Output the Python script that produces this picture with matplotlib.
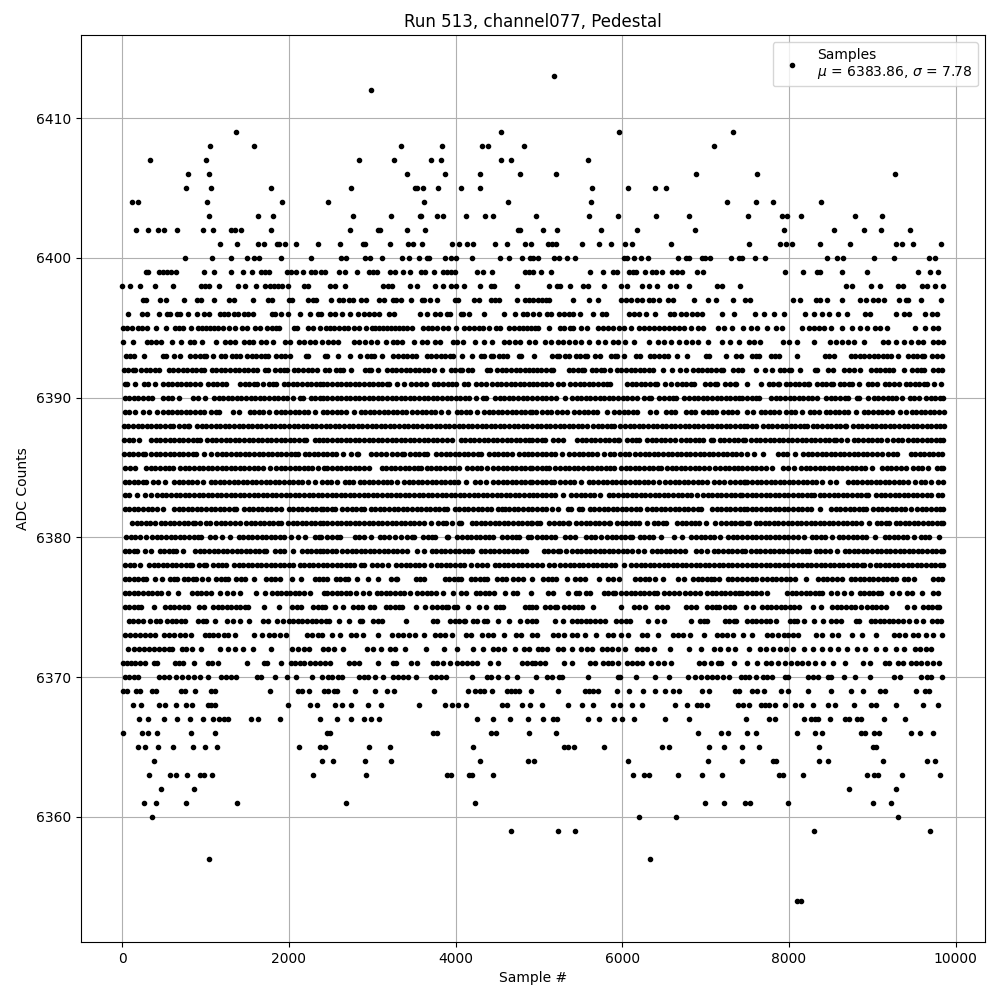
"""Pedestal scatter for run 513, channel077: ADC counts per sample."""

import matplotlib

matplotlib.use("Agg")
import matplotlib.pyplot as plt

# Sample numbers, one list per ADC level.
s6413 = [5184]
s6412 = [2984]
s6409 = [1364, 4544, 5964, 7332]
s6408 = [1052, 1580, 3344, 3836, 4316, 4388, 4820, 7104]
s6407 = [332, 1004, 2840, 3260, 3704, 3824, 4544, 4664, 5592]
s6406 = [788, 1040, 3416, 3872, 4292, 4772, 5208, 6888, 7620, 9276]
s6405 = [764, 1064, 1784, 2744, 3512, 3536, 3608, 3788, 4064, 4292, 5640, 6072, 6396, 6528]
s6404 = [124, 188, 1016, 1916, 2468, 3620, 4628, 5628, 7260, 7608, 7812, 8388]
s6403 = [1040, 1628, 1808, 2768, 3224, 3572, 3584, 3776, 3848, 4124, 4352, 4448, 4968, 5604,
         5952, 6408, 6804, 7512, 7920, 7980, 8148, 8796, 9120]
s6402 = [164, 308, 428, 500, 656, 968, 1088, 1304, 1352, 1424, 1784, 2732, 3068, 3092, 3416,
         3632, 4748, 4772, 5052, 5220, 5748, 6180, 6876, 7944, 8544, 8904, 9108, 9456]
s6401 = [1172, 1376, 1628, 1700, 1856, 1880, 1952, 2084, 2348, 2612, 2888, 2912, 3212, 3428,
         3488, 3596, 3956, 4040, 4136, 4208, 4472, 4616, 4832, 4904, 5112, 5160, 5208, 5520,
         5724, 5868, 6036, 6120, 6588, 7524, 7896, 7968, 8040, 8376, 8736, 9288, 9360, 9492, 9828]
s6400 = [752, 1076, 1304, 1496, 1580, 1640, 1904, 2264, 2624, 2684, 2912, 2972, 3116, 3356,
         3440, 3560, 3656, 3680, 3872, 3944, 4008, 4196, 4532, 4640, 4796, 4892, 4924, 4988,
         5184, 5244, 5340, 5436, 6024, 6060, 6144, 6228, 6312, 6672, 6768, 6804, 6960, 6996,
         7056, 7308, 7404, 7440, 7596, 7716, 8460, 8580, 8652, 9024, 9264, 9684, 9756]
s6399 = [284, 308, 440, 488, 536, 584, 648, 980, 1100, 1304, 1448, 1556, 1664, 1712, 1760,
         1976, 2024, 2084, 2168, 2264, 2312, 2384, 2432, 2600, 2672, 2816, 2960, 3008, 3060,
         3212, 3272, 3368, 3452, 3584, 3632, 3740, 3848, 3896, 3944, 3992, 4256, 4328, 4436,
         4832, 4880, 4932, 5028, 5148, 5616, 5772, 5892, 5940, 6084, 6132, 6168, 6276, 6360,
         6408, 6480, 6600, 6660, 6720, 6900, 6972, 7956, 8172, 8340, 8376, 8640, 8940, 9552,
         9696, 9792]
s6398 = [0, 92, 212, 392, 608, 944, 992, 1044, 1160, 1388, 1472, 1612, 1712, 1772, 1820, 1868,
         1916, 1988, 2180, 2228, 2492, 2552, 2672, 3128, 3188, 3236, 3452, 3536, 3752, 3848,
         3944, 4008, 4100, 4292, 4424, 4460, 4736, 5124, 5220, 5256, 5376, 5532, 5592, 5784,
         5988, 6060, 6240, 6324, 6420, 6576, 6648, 6804, 7140, 7200, 7416, 8688, 8760, 8988,
         9096, 9312, 9372, 9600, 9660, 9756, 9850]
s6397 = [248, 284, 452, 524, 740, 896, 944, 1100, 1280, 1340, 1568, 1748, 1796, 2000, 2036,
         2228, 2288, 2324, 2504, 2600, 2648, 2720, 2768, 2864, 2924, 3080, 3140, 3248, 3284,
         3344, 3464, 3596, 3620, 3692, 3776, 3992, 4028, 4220, 4280, 4424, 4472, 4520, 4736,
         4832, 4880, 4932, 4992, 5040, 5088, 5124, 5412, 5604, 5712, 5988, 6048, 6108, 6180,
         6240, 6324, 6372, 6444, 6552, 6612, 6864, 7032, 7128, 7332, 7476, 7536, 8052, 8136,
         8328, 8376, 8460, 8640, 8856, 8928, 9012, 9072, 9144, 9324, 9408, 9432, 9588, 9828]
s6396 = [68, 236, 296, 440, 536, 572, 656, 692, 788, 896, 980, 1040, 1172, 1220, 1268, 1340,
         1388, 1460, 1508, 1568, 1796, 1832, 1904, 1988, 2132, 2252, 2348, 2388, 2492, 2552,
         2636, 2732, 2828, 2900, 2960, 3020, 3080, 3200, 3260, 3572, 3656, 3752, 3812, 3896,
         3932, 4064, 4088, 4160, 4340, 4580, 4712, 4808, 4856, 4932, 5004, 5100, 5148, 5244,
         5304, 5364, 5412, 5496, 5652, 5760, 5808, 6084, 6144, 6204, 6288, 6396, 6576, 6624,
         6708, 6768, 6840, 6900, 6960, 7192, 7344, 7596, 7704, 7824, 7944, 8196, 8304, 8400,
         8484, 8592, 8700, 8916, 8976, 9288, 9384, 9444, 9636, 9720, 9780]
s6395 = [8, 56, 120, 188, 236, 296, 404, 524, 632, 680, 728, 824, 908, 956, 1004, 1052, 1100,
         1148, 1208, 1280, 1352, 1436, 1496, 1592, 1652, 1736, 1796, 1844, 1880, 2060, 2096,
         2228, 2288, 2372, 2444, 2492, 2540, 2600, 2660, 2708, 2780, 2840, 2924, 2996, 3032,
         3080, 3128, 3176, 3224, 3272, 3320, 3368, 3416, 3476, 3608, 3668, 3716, 3776, 3848,
         3908, 4004, 4100, 4160, 4220, 4280, 4328, 4400, 4484, 4532, 4640, 4700, 4760, 4808,
         4856, 4904, 4952, 4992, 5124, 5256, 5304, 5376, 5412, 5508, 5580, 5712, 5772, 5832,
         5892, 5964, 6024, 6108, 6204, 6264, 6324, 6384, 6444, 6504, 6564, 6624, 6684, 6744,
         6828, 6912, 6972, 7152, 7224, 7320, 7452, 7548, 7620, 7740, 7848, 7920, 8160, 8244,
         8304, 8364, 8424, 8508, 8640, 8760, 8856, 8940, 9036, 9096, 9180, 9516, 9636, 9732, 9792]
s6394 = [8, 128, 296, 344, 404, 464, 596, 704, 812, 860, 956, 1124, 1232, 1292, 1352, 1460,
         1520, 1568, 1664, 1724, 1808, 1952, 2012, 2120, 2180, 2252, 2312, 2396, 2468, 2528,
         2588, 2780, 2840, 2912, 2984, 3056, 3164, 3248, 3296, 3356, 3500, 3596, 3656, 3752,
         3812, 3968, 4016, 4088, 4232, 4340, 4436, 4580, 4640, 4712, 4772, 4880, 4952, 5076,
         5148, 5232, 5292, 5364, 5436, 5508, 5604, 5712, 5796, 5892, 5952, 6036, 6144, 6324,
         6432, 6504, 6588, 6684, 6768, 6840, 6912, 7032, 7200, 7296, 7404, 7524, 7584, 7656,
         7932, 8004, 8100, 8304, 8496, 8568, 8640, 8712, 8784, 8904, 9132, 9192, 9288, 9384,
         9468, 9552, 9612, 9732, 9792, 9850]
s6393 = [50, 100, 140, 260, 490, 530, 620, 700, 820, 875, 930, 985, 1010, 1088, 1190, 1230, 1320,
         1370, 1420, 1500, 1555, 1610, 1665, 1720, 1750, 1850, 1905, 1960, 2010, 2210, 2230, 2430,
         2460, 2584, 2728, 2852, 2935, 2985, 3025, 3112, 3255, 3310, 3365, 3420, 3475, 3520, 3655,
         3710, 3765, 3820, 3875, 3930, 3970, 4080, 4200, 4310, 4345, 4425, 4445, 4525, 4575, 4620,
         4760, 4785, 4945, 5160, 5215, 5235, 5310, 5360, 5440, 5495, 5550, 5580, 5670, 5730, 5860,
         5910, 5940, 6022, 6170, 6210, 6330, 6385, 6440, 6495, 6550, 6656, 6776, 7000, 7040, 7248,
         7370, 7420, 7560, 7600, 7640, 7785, 7830, 7880, 8096, 8430, 8480, 8535, 8740, 8795, 8850,
         8905, 8960, 9015, 9070, 9125, 9180, 9220, 9308, 9430, 9485, 9540, 9590, 9620, 9720, 9775,
         9830]
s6392 = [20, 75, 130, 155, 230, 285, 340, 395, 445, 560, 615, 670, 725, 780, 835, 890, 945, 980,
         1076, 1130, 1185, 1240, 1295, 1350, 1405, 1460, 1515, 1570, 1620, 1716, 1755, 1835, 1890,
         1945, 1975, 2060, 2115, 2170, 2225, 2280, 2340, 2430, 2485, 2560, 2610, 2655, 2750, 2910,
         2960, 2990, 3072, 3180, 3235, 3290, 3345, 3400, 3455, 3510, 3565, 3620, 3675, 3745, 3835,
         3940, 3995, 4050, 4080, 4150, 4195, 4380, 4410, 4500, 4555, 4610, 4665, 4720, 4775, 4830,
         4885, 4925, 4975, 5030, 5085, 5140, 5165, 5355, 5410, 5465, 5520, 5545, 5635, 5690, 5745,
         5785, 5858, 5935, 5990, 6045, 6100, 6155, 6210, 6265, 6320, 6365, 6490, 6600, 6690, 6760,
         6850, 6905, 6960, 7015, 7070, 7125, 7180, 7210, 7330, 7385, 7440, 7600, 7716, 7790, 7886,
         7940, 7995, 8025, 8132, 8315, 8340, 8465, 8530, 8665, 8720, 8775, 8855, 8985, 9040, 9095,
         9150, 9205, 9250, 9382, 9476, 9530, 9585, 9615, 9730, 9785, 9840]
s6391 = [30, 60, 160, 260, 305, 394, 490, 545, 600, 655, 710, 765, 820, 875, 930, 1030, 1085, 1140,
         1195, 1250, 1418, 1473, 1528, 1583, 1620, 1694, 1758, 1813, 1845, 1938, 1993, 2048, 2103,
         2158, 2213, 2268, 2323, 2378, 2415, 2462, 2517, 2572, 2627, 2682, 2737, 2792, 2847, 2902,
         2957, 3012, 3067, 3122, 3177, 3205, 3300, 3385, 3470, 3525, 3580, 3640, 3740, 3795, 3850,
         3905, 3960, 4005, 4100, 4155, 4250, 4305, 4360, 4440, 4495, 4550, 4605, 4660, 4715, 4770,
         4825, 4880, 4925, 4978, 5033, 5088, 5145, 5225, 5285, 5378, 5433, 5488, 5543, 5598, 5653,
         5708, 5763, 5818, 5850, 6058, 6113, 6168, 6223, 6278, 6333, 6388, 6420, 6518, 6580, 6658,
         6713, 6768, 6823, 6860, 6998, 7053, 7108, 7140, 7238, 7293, 7348, 7370, 7498, 7658, 7758,
         7813, 7868, 7880, 7958, 8013, 8068, 8123, 8178, 8233, 8240, 8338, 8393, 8448, 8503, 8530,
         8606, 8661, 8716, 8750, 8840, 8946, 9001, 9060, 9146, 9201, 9256, 9320, 9398, 9453, 9508,
         9563, 9618, 9660, 9738, 9820]
s6390 = [30, 85, 140, 195, 250, 305, 360, 490, 545, 600, 680, 850, 905, 990, 1102, 1157, 1212,
         1267, 1322, 1377, 1432, 1487, 1542, 1597, 1652, 1707, 1762, 1817, 1872, 1927, 1982, 2050,
         2130, 2170, 2262, 2317, 2372, 2410, 2462, 2517, 2572, 2627, 2682, 2737, 2792, 2847, 2902,
         2957, 3012, 3067, 3122, 3177, 3232, 3287, 3342, 3397, 3452, 3507, 3562, 3617, 3672, 3727,
         3782, 3837, 3892, 3947, 4002, 4057, 4112, 4167, 4240, 4330, 4365, 4474, 4529, 4584, 4639,
         4694, 4749, 4804, 4859, 4914, 4978, 5033, 5088, 5143, 5206, 5310, 5398, 5453, 5508, 5563,
         5618, 5673, 5728, 5783, 5838, 5893, 5948, 6003, 6058, 6113, 6175, 6266, 6321, 6350, 6446,
         6501, 6556, 6611, 6646, 6746, 6801, 6856, 6911, 6966, 7021, 7076, 7131, 7186, 7241, 7296,
         7351, 7406, 7440, 7498, 7553, 7608, 7638, 7786, 7841, 7896, 7951, 8006, 8061, 8116, 8171,
         8226, 8281, 8338, 8446, 8501, 8556, 8611, 8666, 8710, 8810, 8838, 8942, 9018, 9073, 9128,
         9183, 9238, 9278, 9358, 9450, 9505, 9558, 9646, 9701, 9756, 9811, 9850]
s6389 = [30, 85, 150, 250, 322, 420, 490, 545, 600, 655, 710, 765, 820, 875, 930, 978, 1070, 1125,
         1162, 1330, 1402, 1530, 1585, 1640, 1695, 1762, 1850, 1905, 1960, 2015, 2070, 2125, 2180,
         2235, 2310, 2410, 2462, 2517, 2572, 2627, 2682, 2782, 2862, 2917, 2972, 3027, 3082, 3137,
         3192, 3247, 3302, 3357, 3402, 3482, 3537, 3592, 3647, 3702, 3757, 3822, 3912, 4014, 4069,
         4124, 4179, 4262, 4342, 4397, 4452, 4507, 4562, 4617, 4672, 4727, 4782, 4837, 4892, 4922,
         4966, 5038, 5093, 5146, 5218, 5273, 5338, 5426, 5481, 5536, 5591, 5646, 5698, 5812, 5906,
         5961, 6016, 6071, 6126, 6178, 6338, 6406, 6530, 6585, 6638, 6766, 6821, 6878, 6970, 7025,
         7080, 7126, 7210, 7265, 7320, 7378, 7498, 7570, 7658, 7713, 7768, 7823, 7878, 7966, 8021,
         8076, 8158, 8246, 8301, 8358, 8438, 8493, 8548, 8603, 8658, 8713, 8798, 8898, 8953, 9008,
         9063, 9118, 9173, 9238, 9330, 9398, 9470, 9525, 9580, 9635, 9690, 9745, 9800, 9858]
s6388 = [20, 75, 130, 185, 240, 295, 350, 405, 460, 515, 570, 610, 682, 737, 792, 802, 902, 957,
         1012, 1067, 1122, 1177, 1232, 1287, 1342, 1397, 1452, 1507, 1562, 1617, 1672, 1727, 1782,
         1837, 1892, 1947, 2002, 2057, 2112, 2167, 2222, 2277, 2332, 2387, 2442, 2497, 2552, 2607,
         2662, 2717, 2772, 2827, 2882, 2937, 2992, 3047, 3102, 3157, 3212, 3267, 3322, 3377, 3432,
         3487, 3542, 3597, 3652, 3707, 3762, 3817, 3872, 3927, 3982, 4037, 4092, 4147, 4202, 4257,
         4312, 4367, 4422, 4477, 4532, 4587, 4642, 4697, 4752, 4807, 4862, 4917, 4972, 5027, 5082,
         5137, 5192, 5247, 5302, 5357, 5412, 5467, 5522, 5578, 5650, 5705, 5760, 5815, 5870, 5898,
         5978, 6033, 6088, 6143, 6198, 6253, 6308, 6363, 6418, 6473, 6528, 6583, 6638, 6693, 6748,
         6803, 6858, 6913, 6968, 7023, 7078, 7133, 7188, 7243, 7298, 7353, 7408, 7463, 7498, 7553,
         7606, 7690, 7745, 7800, 7855, 7910, 7965, 8020, 8075, 8130, 8185, 8218, 8286, 8341, 8396,
         8451, 8506, 8561, 8616, 8671, 8686, 8770, 8825, 8880, 8935, 8990, 9045, 9100, 9155, 9210,
         9265, 9320, 9375, 9430, 9485, 9540, 9595, 9650, 9705, 9760, 9815, 9858]
s6387 = [25, 80, 135, 198, 350, 405, 460, 515, 570, 625, 680, 735, 790, 845, 900, 930, 1022, 1077,
         1132, 1187, 1242, 1297, 1352, 1407, 1462, 1517, 1572, 1627, 1682, 1737, 1792, 1847, 1902,
         1957, 2012, 2067, 2122, 2177, 2210, 2310, 2365, 2410, 2462, 2517, 2572, 2627, 2682, 2737,
         2792, 2847, 2902, 2957, 3012, 3067, 3122, 3177, 3232, 3287, 3342, 3397, 3452, 3507, 3562,
         3617, 3672, 3727, 3782, 3837, 3892, 3962, 4062, 4117, 4172, 4227, 4282, 4337, 4392, 4447,
         4502, 4557, 4612, 4667, 4722, 4777, 4832, 4887, 4922, 4978, 5033, 5078, 5170, 5225, 5286,
         5458, 5513, 5568, 5623, 5678, 5733, 5788, 5843, 5898, 5953, 5966, 6058, 6113, 6168, 6198,
         6298, 6353, 6408, 6463, 6518, 6573, 6630, 6706, 6761, 6816, 6871, 6926, 6966, 7066, 7086,
         7170, 7225, 7280, 7335, 7390, 7445, 7478, 7546, 7601, 7656, 7711, 7766, 7821, 7876, 7931,
         7986, 8041, 8096, 8151, 8206, 8261, 8316, 8371, 8426, 8481, 8536, 8558, 8626, 8690, 8778,
         8833, 8888, 8943, 8998, 9053, 9108, 9178, 9250, 9305, 9358, 9430, 9485, 9540, 9595, 9650,
         9705, 9760, 9815, 9850]
s6386 = [25, 80, 135, 190, 245, 278, 350, 405, 460, 515, 570, 625, 680, 735, 790, 845, 890, 982,
         1070, 1142, 1197, 1252, 1307, 1362, 1417, 1472, 1527, 1582, 1637, 1692, 1747, 1802, 1857,
         1912, 1967, 2022, 2077, 2110, 2190, 2245, 2300, 2355, 2410, 2462, 2517, 2570, 2654, 2742,
         2822, 2830, 2990, 3045, 3100, 3162, 3242, 3297, 3352, 3382, 3454, 3509, 3564, 3619, 3662,
         3770, 3825, 3880, 3935, 3990, 4045, 4100, 4155, 4210, 4265, 4302, 4402, 4457, 4512, 4567,
         4622, 4682, 4762, 4817, 4872, 4922, 4978, 5033, 5088, 5143, 5198, 5278, 5366, 5421, 5476,
         5531, 5586, 5641, 5696, 5778, 5858, 5906, 5978, 6033, 6078, 6158, 6213, 6268, 6323, 6378,
         6433, 6488, 6543, 6598, 6653, 6708, 6763, 6818, 6873, 6928, 6983, 7038, 7093, 7148, 7203,
         7258, 7313, 7368, 7423, 7498, 7578, 7688, 7870, 7925, 7980, 8070, 8170, 8225, 8280, 8335,
         8390, 8445, 8500, 8555, 8610, 8665, 8720, 8775, 8830, 8885, 8940, 8995, 9050, 9118, 9190,
         9245, 9298, 9458, 9513, 9568, 9623, 9678, 9733, 9788, 9838]
s6385 = [38, 93, 150, 290, 345, 400, 455, 510, 565, 610, 698, 753, 808, 863, 918, 973, 1028, 1083,
         1138, 1193, 1248, 1303, 1358, 1413, 1468, 1523, 1578, 1633, 1690, 1770, 1850, 1905, 1960,
         2015, 2070, 2125, 2180, 2235, 2278, 2354, 2424, 2462, 2517, 2572, 2627, 2682, 2737, 2792,
         2847, 2902, 2962, 3114, 3169, 3224, 3279, 3334, 3389, 3444, 3499, 3554, 3582, 3654, 3709,
         3764, 3819, 3874, 3929, 3984, 4042, 4142, 4197, 4252, 4307, 4382, 4454, 4509, 4564, 4619,
         4674, 4729, 4784, 4839, 4894, 4922, 4978, 5033, 5088, 5118, 5198, 5253, 5308, 5363, 5418,
         5473, 5528, 5583, 5638, 5693, 5748, 5803, 5858, 5898, 5986, 6041, 6096, 6151, 6206, 6261,
         6316, 6371, 6426, 6466, 6538, 6593, 6648, 6703, 6758, 6813, 6868, 6923, 6978, 7038, 7118,
         7173, 7228, 7283, 7338, 7393, 7438, 7498, 7553, 7608, 7663, 7718, 7798, 7930, 7985, 8058,
         8146, 8201, 8256, 8311, 8366, 8421, 8476, 8531, 8586, 8641, 8696, 8751, 8806, 8861, 8916,
         8998, 9118, 9173, 9228, 9283, 9338, 9398, 9490, 9545, 9590, 9672, 9770, 9825, 9850]
s6384 = [30, 85, 140, 195, 250, 282, 370, 425, 510, 622, 677, 732, 787, 842, 898, 970, 1062, 1117,
         1172, 1227, 1282, 1337, 1392, 1447, 1502, 1557, 1612, 1667, 1722, 1777, 1832, 1887, 1942,
         1997, 2052, 2107, 2162, 2230, 2310, 2398, 2453, 2502, 2582, 2670, 2725, 2770, 2850, 2905,
         2960, 3015, 3070, 3125, 3180, 3222, 3302, 3382, 3437, 3492, 3547, 3602, 3657, 3712, 3767,
         3822, 3877, 3932, 3987, 4034, 4128, 4234, 4289, 4362, 4454, 4509, 4564, 4619, 4674, 4729,
         4784, 4839, 4894, 4922, 4978, 5033, 5088, 5143, 5178, 5258, 5313, 5368, 5423, 5506, 5598,
         5653, 5708, 5763, 5818, 5873, 5928, 5983, 6038, 6093, 6148, 6203, 6258, 6313, 6368, 6438,
         6518, 6573, 6628, 6683, 6738, 6793, 6848, 6903, 6958, 7018, 7106, 7161, 7218, 7298, 7353,
         7408, 7463, 7498, 7478, 7558, 7613, 7668, 7723, 7778, 7833, 7888, 7943, 7998, 8053, 8108,
         8163, 8218, 8273, 8328, 8398, 8486, 8566, 8710, 8765, 8820, 8875, 8930, 8985, 9040, 9095,
         9150, 9205, 9260, 9315, 9370, 9425, 9506, 9578, 9633, 9706, 9786, 9850]
s6383 = [30, 85, 178, 270, 342, 422, 477, 532, 587, 642, 697, 752, 807, 862, 917, 972, 1027, 1082,
         1137, 1192, 1247, 1302, 1357, 1412, 1467, 1522, 1577, 1632, 1687, 1742, 1797, 1852, 1907,
         1962, 2017, 2072, 2127, 2182, 2237, 2292, 2347, 2402, 2457, 2512, 2567, 2622, 2677, 2732,
         2787, 2842, 2897, 2952, 3007, 3062, 3117, 3172, 3227, 3282, 3337, 3392, 3447, 3502, 3557,
         3612, 3667, 3722, 3777, 3832, 3887, 3942, 3997, 4052, 4107, 4162, 4217, 4272, 4327, 4382,
         4437, 4492, 4547, 4602, 4657, 4712, 4767, 4822, 4877, 4932, 4978, 5033, 5088, 5143, 5198,
         5286, 5390, 5445, 5500, 5555, 5610, 5665, 5738, 5838, 5893, 5948, 6003, 6058, 6113, 6168,
         6223, 6278, 6333, 6388, 6443, 6498, 6553, 6608, 6663, 6718, 6773, 6828, 6898, 6970, 7025,
         7080, 7135, 7190, 7245, 7300, 7355, 7410, 7440, 7498, 7553, 7608, 7663, 7718, 7773, 7828,
         7883, 7938, 7993, 8048, 8103, 8158, 8213, 8268, 8298, 8370, 8425, 8480, 8535, 8590, 8645,
         8700, 8755, 8810, 8865, 8920, 8950, 9046, 9101, 9156, 9211, 9266, 9321, 9376, 9431, 9486,
         9541, 9596, 9651, 9706, 9790, 9838]
s6382 = [30, 85, 140, 195, 250, 305, 360, 415, 490, 622, 677, 732, 787, 842, 897, 952, 1007, 1062,
         1117, 1172, 1227, 1282, 1337, 1370, 1462, 1517, 1572, 1627, 1682, 1737, 1792, 1847, 1910,
         1998, 2053, 2108, 2163, 2218, 2273, 2328, 2383, 2410, 2462, 2517, 2554, 2642, 2697, 2752,
         2807, 2862, 2902, 2982, 3037, 3092, 3147, 3202, 3257, 3312, 3367, 3422, 3477, 3532, 3587,
         3642, 3697, 3752, 3807, 3862, 3894, 3990, 4045, 4100, 4155, 4210, 4265, 4320, 4375, 4422,
         4506, 4560, 4590, 4645, 4700, 4755, 4810, 4865, 4920, 4978, 5033, 5088, 5158, 5232, 5350,
         5390, 5478, 5518, 5610, 5665, 5720, 5775, 5830, 5885, 5940, 5995, 6050, 6105, 6160, 6218,
         6298, 6353, 6408, 6463, 6518, 6573, 6628, 6683, 6738, 6793, 6848, 6903, 6950, 7078, 7133,
         7188, 7243, 7298, 7353, 7408, 7463, 7498, 7553, 7608, 7663, 7718, 7773, 7828, 7883, 7938,
         7993, 8048, 8103, 8158, 8213, 8266, 8372, 8506, 8561, 8616, 8671, 8726, 8781, 8836, 8891,
         8926, 9010, 9065, 9120, 9175, 9230, 9285, 9340, 9395, 9458, 9538, 9593, 9648, 9703, 9758,
         9813, 9850]
s6381 = [118, 173, 228, 283, 338, 390, 462, 517, 572, 627, 682, 737, 792, 847, 870, 936, 1002,
         1050, 1130, 1185, 1240, 1295, 1350, 1420, 1486, 1541, 1596, 1651, 1706, 1761, 1816, 1871,
         1910, 1990, 2045, 2100, 2155, 2210, 2265, 2320, 2375, 2410, 2462, 2517, 2572, 2627, 2682,
         2737, 2792, 2847, 2902, 2957, 3012, 3067, 3122, 3177, 3232, 3287, 3342, 3397, 3452, 3507,
         3562, 3617, 3702, 3790, 3845, 3890, 3962, 4042, 4062, 4194, 4249, 4304, 4359, 4414, 4469,
         4524, 4579, 4634, 4689, 4744, 4799, 4854, 4909, 4922, 4978, 5018, 5126, 5181, 5236, 5291,
         5346, 5366, 5450, 5505, 5560, 5615, 5670, 5725, 5780, 5835, 5858, 5938, 5993, 6048, 6103,
         6158, 6198, 6292, 6378, 6433, 6488, 6526, 6658, 6713, 6768, 6823, 6878, 6918, 7008, 7114,
         7190, 7245, 7300, 7355, 7410, 7438, 7498, 7518, 7598, 7653, 7708, 7763, 7818, 7873, 7928,
         7983, 8038, 8093, 8148, 8203, 8258, 8313, 8368, 8423, 8478, 8533, 8588, 8643, 8698, 8753,
         8808, 8858, 8964, 9050, 9105, 9160, 9198, 9278, 9333, 9388, 9443, 9498, 9553, 9608, 9663,
         9718, 9773, 9828, 9850]
s6380 = [50, 105, 160, 215, 282, 362, 417, 472, 527, 582, 637, 692, 747, 802, 857, 912, 950, 1058,
         1113, 1198, 1294, 1398, 1453, 1508, 1563, 1618, 1673, 1728, 1783, 1838, 1893, 1948, 2030,
         2110, 2194, 2310, 2365, 2390, 2462, 2517, 2572, 2610, 2790, 2845, 2900, 2990, 3090, 3145,
         3200, 3274, 3348, 3422, 3477, 3502, 3610, 3665, 3720, 3754, 3898, 3914, 4022, 4077, 4132,
         4187, 4242, 4297, 4352, 4407, 4450, 4562, 4617, 4672, 4727, 4762, 4870, 4902, 4978, 5033,
         5088, 5143, 5198, 5318, 5373, 5438, 5566, 5621, 5678, 5744, 5818, 5873, 5928, 5983, 6038,
         6093, 6118, 6210, 6265, 6320, 6366, 6464, 6626, 6722, 6830, 6885, 6940, 6995, 7050, 7105,
         7170, 7270, 7325, 7380, 7438, 7498, 7553, 7608, 7663, 7718, 7773, 7828, 7883, 7938, 7993,
         8048, 8103, 8178, 8270, 8325, 8380, 8435, 8518, 8598, 8653, 8708, 8763, 8818, 8873, 8928,
         9026, 9146, 9201, 9256, 9311, 9366, 9421, 9498, 9578, 9633, 9678, 9804]
s6379 = [30, 85, 140, 178, 278, 350, 450, 505, 560, 615, 650, 730, 878, 933, 988, 1043, 1098, 1153,
         1208, 1263, 1318, 1373, 1428, 1483, 1538, 1593, 1648, 1703, 1730, 1838, 1893, 1948, 2050,
         2158, 2213, 2268, 2323, 2378, 2410, 2462, 2517, 2562, 2642, 2697, 2752, 2807, 2862, 2917,
         2972, 3027, 3082, 3137, 3192, 3247, 3302, 3357, 3422, 3532, 3626, 3714, 3769, 3824, 3879,
         3934, 3989, 4044, 4099, 4154, 4202, 4302, 4357, 4412, 4467, 4522, 4577, 4632, 4687, 4742,
         4797, 4842, 5058, 5113, 5168, 5223, 5258, 5328, 5398, 5453, 5508, 5563, 5618, 5673, 5728,
         5783, 5838, 5893, 5948, 6003, 6058, 6113, 6190, 6262, 6358, 6413, 6468, 6523, 6578, 6633,
         6688, 6750, 6886, 6941, 7018, 7098, 7153, 7208, 7263, 7318, 7373, 7438, 7478, 7546, 7601,
         7656, 7711, 7766, 7821, 7876, 7931, 7986, 8041, 8096, 8151, 8206, 8238, 8318, 8373, 8428,
         8486, 8580, 8666, 8721, 8776, 8831, 8886, 8941, 8996, 9051, 9106, 9161, 9216, 9271, 9326,
         9381, 9436, 9491, 9546, 9601, 9656, 9711, 9766, 9821, 9850]
s6378 = [38, 93, 148, 210, 322, 377, 432, 487, 542, 597, 652, 707, 762, 817, 842, 922, 977, 1010,
         1090, 1145, 1200, 1250, 1342, 1397, 1452, 1507, 1562, 1617, 1672, 1727, 1782, 1837, 1892,
         1947, 2002, 2050, 2130, 2185, 2240, 2295, 2350, 2410, 2462, 2517, 2572, 2627, 2682, 2737,
         2782, 2862, 2902, 3002, 3057, 3112, 3190, 3290, 3345, 3400, 3455, 3510, 3565, 3620, 3702,
         3774, 3829, 3884, 3939, 3994, 4049, 4104, 4182, 4262, 4317, 4382, 4470, 4525, 4580, 4635,
         4690, 4745, 4800, 4855, 4922, 4978, 5038, 5118, 5182, 5258, 5313, 5368, 5423, 5478, 5533,
         5588, 5643, 5698, 5753, 5808, 5863, 5918, 6018, 6110, 6165, 6220, 6275, 6330, 6385, 6440,
         6495, 6550, 6605, 6660, 6715, 6770, 6825, 6880, 6935, 6990, 7045, 7100, 7155, 7210, 7265,
         7320, 7375, 7438, 7498, 7553, 7608, 7663, 7718, 7773, 7828, 7883, 7938, 7993, 8048, 8103,
         8158, 8213, 8268, 8323, 8378, 8433, 8488, 8543, 8598, 8653, 8708, 8763, 8818, 8873, 8898,
         8968, 9038, 9093, 9148, 9203, 9258, 9313, 9368, 9423, 9478, 9533, 9588, 9643, 9698, 9753,
         9808, 9850]
s6377 = [30, 85, 140, 195, 250, 290, 396, 480, 570, 625, 658, 738, 793, 848, 890, 954, 1030, 1130,
         1185, 1240, 1270, 1370, 1425, 1470, 1580, 1730, 1785, 1840, 1895, 2034, 2150, 2310, 2365,
         2410, 2462, 2562, 2617, 2672, 2710, 2822, 2946, 3066, 3230, 3285, 3302, 3522, 3577, 3622,
         3870, 3925, 3980, 4035, 4062, 4182, 4237, 4292, 4347, 4382, 4502, 4557, 4610, 4694, 4749,
         4804, 4922, 5050, 5105, 5160, 5206, 5342, 5438, 5493, 5550, 5724, 5830, 5885, 5958, 6158,
         6213, 6268, 6323, 6398, 6484, 6670, 6738, 6850, 6905, 6960, 7015, 7070, 7098, 7164, 7266,
         7321, 7376, 7431, 7498, 7553, 7608, 7670, 7738, 7793, 7848, 7903, 7958, 8013, 8070, 8198,
         8350, 8405, 8460, 8515, 8570, 8638, 8738, 8793, 8848, 8903, 8958, 9013, 9068, 9123, 9178,
         9233, 9278, 9378, 9433, 9498, 9730, 9785, 9830]
s6376 = [30, 85, 140, 195, 250, 305, 360, 415, 470, 550, 674, 838, 893, 948, 1003, 1070, 1170,
         1262, 1330, 1414, 1610, 1714, 1798, 1853, 1908, 1963, 2018, 2073, 2128, 2183, 2258, 2424,
         2462, 2517, 2572, 2627, 2682, 2737, 2802, 2894, 2962, 3054, 3109, 3164, 3219, 3274, 3329,
         3382, 3448, 3542, 3597, 3652, 3707, 3762, 3850, 3972, 4062, 4130, 4242, 4297, 4352, 4407,
         4462, 4598, 4690, 4742, 4902, 5110, 5166, 5354, 5450, 5478, 5566, 5618, 5778, 5833, 5888,
         5918, 5990, 6045, 6100, 6155, 6210, 6265, 6320, 6375, 6418, 6506, 6561, 6616, 6678, 6758,
         6813, 6868, 6938, 7018, 7073, 7128, 7183, 7238, 7293, 7348, 7403, 7438, 7498, 7553, 7608,
         7663, 7738, 7978, 8033, 8088, 8143, 8198, 8253, 8308, 8363, 8398, 8502, 8578, 8658, 8748,
         8846, 8901, 8956, 9011, 9066, 9098, 9234, 9324, 9418, 9478, 9592, 9730, 9790]
s6375 = [30, 85, 140, 195, 230, 380, 518, 573, 628, 683, 738, 790, 918, 978, 1090, 1145, 1200, 1255,
         1310, 1365, 1420, 1475, 1510, 1704, 1880, 2038, 2093, 2150, 2290, 2345, 2400, 2436, 2556,
         2652, 2774, 2829, 2882, 2970, 3022, 3162, 3217, 3272, 3327, 3362, 3528, 3638, 3722, 3777,
         3832, 3887, 3914, 3982, 4022, 4154, 4276, 4368, 4482, 4537, 4574, 4830, 4885, 4922, 4964,
         5078, 5133, 5188, 5218, 5306, 5361, 5416, 5471, 5518, 5652, 5988, 6146, 6201, 6270, 6418,
         6473, 6538, 6770, 6825, 6886, 7018, 7073, 7128, 7158, 7238, 7293, 7338, 7488, 7568, 7678,
         7733, 7788, 7843, 7898, 7953, 8008, 8063, 8118, 8282, 8382, 8518, 8573, 8628, 8683, 8738,
         8793, 8858, 8938, 8993, 9048, 9103, 9158, 9418, 9498, 9610, 9665, 9720, 9775, 9798]
s6374 = [78, 133, 188, 250, 330, 410, 450, 538, 593, 648, 703, 750, 910, 965, 1010, 1114, 1262,
         1330, 1410, 1524, 1690, 1750, 1862, 1930, 1998, 2053, 2108, 2163, 2218, 2273, 2328, 2383,
         2440, 2482, 2602, 2722, 2854, 2882, 3014, 3069, 3122, 3402, 3734, 3782, 3934, 3989, 4044,
         4099, 4114, 4214, 4262, 4342, 4382, 4512, 4646, 4774, 4862, 4917, 4964, 5194, 5286, 5398,
         5453, 5508, 5563, 5618, 5673, 5728, 5798, 5930, 5985, 6040, 6098, 6308, 6418, 6506, 6826,
         6930, 6985, 7018, 7230, 7285, 7340, 7366, 7498, 7553, 7608, 7663, 7718, 7773, 7838, 8006,
         8061, 8098, 8182, 8302, 8410, 8506, 8561, 8618, 8808, 8838, 8978, 9033, 9088, 9143, 9198,
         9253, 9308, 9363, 9438, 9518, 9612, 9718, 9773, 9826]
s6373 = [32, 92, 152, 212, 272, 332, 392, 500, 560, 620, 692, 752, 824, 992, 1040, 1088, 1148,
         1220, 1268, 1352, 1580, 1676, 1760, 1820, 1892, 1964, 2216, 2276, 2348, 2396, 2516,
         2612, 2744, 2804, 2888, 3068, 3236, 3308, 3368, 3440, 3512, 3620, 3752, 3812, 3872,
         3956, 4124, 4184, 4316, 4388, 4448, 4580, 4724, 4784, 4916, 4972, 5172, 5232, 5304,
         5400, 5460, 5556, 5688, 5832, 5892, 5988, 6072, 6240, 6300, 6432, 6612, 6672, 6732,
         6816, 6984, 7140, 7200, 7260, 7332, 7452, 7560, 7740, 7800, 7872, 7944, 7992, 8052,
         8112, 8328, 8400, 8520, 8592, 8760, 8880, 9048, 9264, 9324, 9396, 9492, 9552, 9648,
         9732, 9840]
s6372 = [68, 140, 200, 260, 320, 380, 440, 500, 560, 596, 716, 764, 836, 944, 1172, 1268, 1352,
         1448, 1568, 1784, 2036, 2108, 2180, 2240, 2408, 2468, 2540, 2648, 2936, 3008, 3104,
         3212, 3272, 3392, 3644, 3860, 4016, 4208, 4328, 4448, 4508, 4580, 4716, 4820, 4880,
         4992, 5040, 5100, 5232, 5292, 5400, 5508, 5580, 5640, 5760, 5820, 5880, 5952, 6036,
         6180, 6240, 6300, 6384, 6576, 6804, 6948, 7104, 7176, 7272, 7356, 7524, 7656, 7728,
         7812, 7896, 7968, 8052, 8184, 8292, 8400, 8496, 8592, 8700, 8820, 8916, 9048, 9156,
         9288, 9384, 9516, 9576, 9648, 9708]
s6371 = [8, 56, 104, 152, 212, 272, 380, 416, 632, 680, 728, 860, 1028, 1076, 1148, 1496, 1700,
         1736, 1904, 2024, 2072, 2132, 2180, 2252, 2312, 2372, 2432, 2492, 2720, 2780, 2840,
         3068, 3248, 3284, 3464, 3536, 3728, 3776, 3848, 3932, 4016, 4076, 4136, 4196, 4256,
         4412, 4508, 4796, 4856, 4916, 4952, 5012, 5072, 5304, 5400, 5616, 5676, 5772, 5832,
         5880, 5952, 6060, 6120, 6180, 6240, 6348, 6432, 6504, 6588, 6924, 6984, 7068, 7152,
         7188, 7344, 7500, 7620, 7728, 7788, 7872, 7956, 8028, 8100, 8160, 8232, 8316, 8412,
         8532, 8676, 8892, 8976, 9156, 9204, 9312, 9372, 9468, 9528, 9588, 9660, 9732, 9804]
s6370 = [32, 80, 140, 188, 440, 500, 560, 644, 716, 788, 860, 932, 1028, 1184, 1244, 1304, 1364,
         1616, 1664, 1832, 1976, 2084, 2276, 2396, 2468, 2516, 2588, 2636, 2840, 2900, 2948,
         3032, 3128, 3248, 3308, 3368, 3428, 3524, 3704, 3764, 3824, 3884, 4196, 4376, 4424,
         4508, 4616, 4736, 4968, 5100, 5160, 5244, 5280, 5592, 5952, 5976, 6168, 6392, 6564,
         6792, 6876, 6948, 7020, 7080, 7140, 7212, 7284, 7428, 7476, 7524, 7608, 7692, 7740,
         7800, 7956, 7992, 8232, 8292, 8352, 8472, 8508, 8664, 8796, 8976, 9264, 9336, 9588,
         9660, 9708, 9840]
s6369 = [8, 56, 164, 212, 356, 404, 704, 752, 872, 1064, 1112, 1772, 2108, 2156, 2240, 2420,
         2468, 2540, 2576, 2792, 3032, 3176, 3260, 3740, 4148, 4232, 4292, 4340, 4436, 4616,
         4664, 4712, 4760, 4904, 5232, 5556, 5604, 5652, 5712, 5940, 6084, 6252, 6396, 6516,
         6612, 6684, 6960, 7044, 7356, 7404, 7560, 7620, 7704, 7908, 7992, 8232, 8508, 8748,
         8892, 9096, 9156, 9528, 9636, 9684]
s6368 = [128, 224, 440, 512, 644, 764, 836, 1028, 1064, 1112, 1988, 2252, 2336, 2552, 2636, 2744,
         2948, 3104, 3556, 3872, 3956, 4028, 4124, 4556, 4616, 4796, 4892, 5040, 5352, 5520,
         5652, 5892, 5976, 6120, 6240, 6636, 6780, 6900, 6948, 7020, 7392, 7452, 7524, 7668,
         7716, 7764, 7836, 7956, 8076, 8148, 8292, 8472, 8556, 8784, 8988, 9048, 9288, 9612, 9792]
s6367 = [200, 308, 500, 656, 812, 968, 1088, 1160, 1220, 1268, 1544, 1628, 1892, 2372, 2576,
         2744, 2900, 2984, 3080, 4256, 4448, 4652, 4868, 5044, 5172, 5220, 5592, 5724, 5904,
         6000, 6144, 6516, 6804, 7488, 7764, 7836, 8184, 8268, 8316, 8352, 8496, 8676, 8724,
         8820, 8868, 9144, 9396]
s6366 = [8, 236, 308, 416, 824, 1112, 2456, 2492, 3728, 3776, 4424, 4484, 4880, 5208, 6912, 7188,
         7272, 7500, 7608, 8100, 8316, 8400, 8868, 8916, 9024, 9084, 9468, 9576, 9732]
s6365 = [188, 272, 428, 608, 848, 992, 1136, 2120, 2372, 2432, 2960, 3212, 4208, 5304, 5352,
         5424, 5784, 6480, 6564, 7044, 7224, 7440, 7644, 8364, 9012, 9048]
s6364 = [380, 2396, 2528, 2912, 3224, 4292, 4868, 4940, 6072, 7032, 7440, 7812, 7848, 8364, 8472,
         9132, 9660, 9756]
s6363 = [320, 572, 644, 776, 932, 980, 1076, 2288, 2924, 3896, 3944, 4160, 4196, 4448, 6132, 6264,
         6324, 6672, 6960, 7200, 7884, 7932, 8172, 8940, 9024, 9072, 9360, 9816]
s6362 = [464, 860, 8724, 9288]
s6361 = [260, 404, 764, 1376, 2684, 4232, 6996, 7224, 7476, 7536, 7992, 9012, 9228]
s6360 = [356, 6204, 6648, 9312]
s6359 = [4664, 5232, 5436, 8304, 9696]
s6357 = [1040, 6336]
s6354 = [8092, 8140]

adc_levels = [6413, 6412, 6409, 6408, 6407, 6406, 6405, 6404, 6403, 6402, 6401, 6400, 6399, 6398,
              6397, 6396, 6395, 6394, 6393, 6392, 6391, 6390, 6389, 6388, 6387, 6386, 6385, 6384,
              6383, 6382, 6381, 6380, 6379, 6378, 6377, 6376, 6375, 6374, 6373, 6372, 6371, 6370,
              6369, 6368, 6367, 6366, 6365, 6364, 6363, 6362, 6361, 6360, 6359, 6357, 6354]
level_samples = [s6413, s6412, s6409, s6408, s6407, s6406, s6405, s6404, s6403, s6402, s6401, s6400,
                 s6399, s6398, s6397, s6396, s6395, s6394, s6393, s6392, s6391, s6390, s6389, s6388,
                 s6387, s6386, s6385, s6384, s6383, s6382, s6381, s6380, s6379, s6378, s6377, s6376,
                 s6375, s6374, s6373, s6372, s6371, s6370, s6369, s6368, s6367, s6366, s6365, s6364,
                 s6363, s6362, s6361, s6360, s6359, s6357, s6354]

MU, SIGMA = 6383.86, 7.78


def main() -> None:
    samples = []
    counts = []
    for level, xs in zip(adc_levels, level_samples):
        samples.extend(xs)
        counts.extend([level] * len(xs))

    fig, ax = plt.subplots(figsize=(10, 10))
    ax.plot(samples, counts, "k.", label=f"Samples\n$\\mu$ = {MU:.2f}, $\\sigma$ = {SIGMA:.2f}")
    ax.set_xlabel("Sample #")
    ax.set_ylabel("ADC Counts")
    ax.set_title("Run 513, channel077, Pedestal")
    ax.legend(loc="upper right")
    ax.grid(True)
    fig.subplots_adjust(left=0.081, right=0.985, top=0.965, bottom=0.058)
    fig.savefig("out.png", dpi=100)
    plt.close(fig)


if __name__ == "__main__":
    main()
